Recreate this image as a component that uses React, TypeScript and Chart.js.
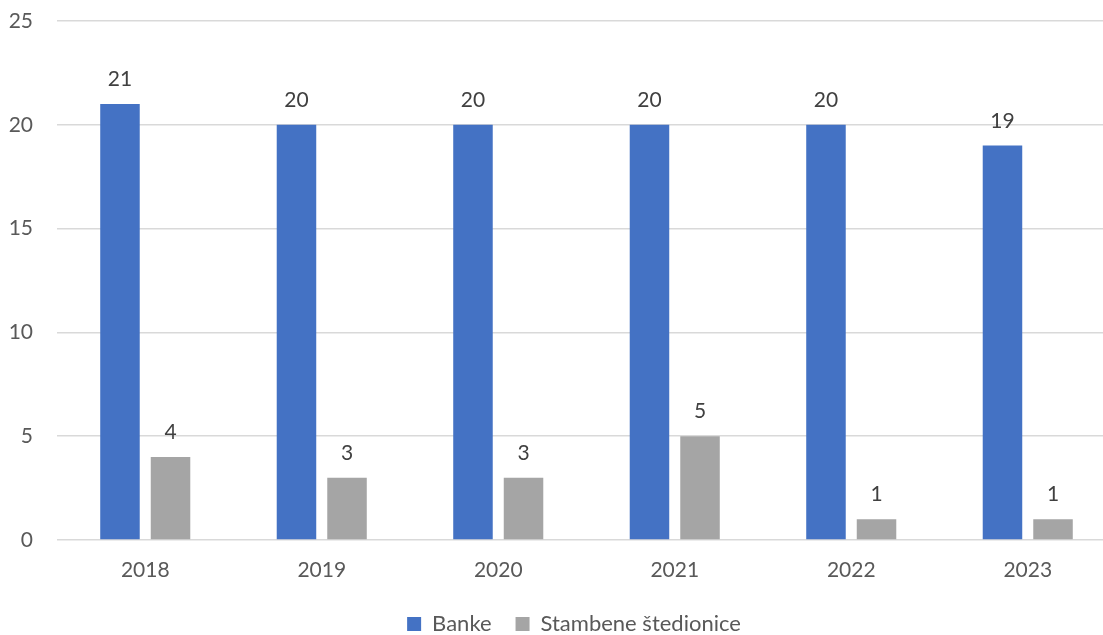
import React, { useEffect, useRef } from "react";
import { Chart, registerables } from "chart.js";

Chart.register(...registerables);

const categories = ["2018", "2019", "2020", "2021", "2022", "2023"];
const banke = [21, 20, 20, 20, 20, 19];
const stambene = [4, 3, 3, 5, 1, 1];
const seriesNames = ["Banke", "Stambene štedionice"];
const yTicks = [0, 5, 10, 15, 20, 25];

const FONT = "Lato, 'Open Sans', sans-serif";

const valueLabels = {
  id: "valueLabels",
  afterDatasetsDraw(chart: any) {
    const ctx = chart.ctx;
    ctx.save();
    ctx.font = `21px ${FONT}`;
    ctx.fillStyle = "#404040";
    ctx.textAlign = "center";
    ctx.textBaseline = "alphabetic";
    chart.data.datasets.forEach((ds: any, i: number) => {
      const meta = chart.getDatasetMeta(i);
      meta.data.forEach((bar: any, j: number) => {
        ctx.fillText(String(ds.data[j]), bar.x, bar.y - 18);
      });
    });
    ctx.restore();
  },
};

const legendShift = {
  id: "legendShift",
  afterLayout(chart: any) {
    const lg = chart.legend;
    if (lg) {
      lg.left += 16;
      lg.right += 16;
    }
  },
};

export default function App() {
  const ref = useRef<HTMLCanvasElement>(null);
  useEffect(() => {
    document.body.style.margin = "0";
    document.body.style.overflow = "hidden";
    const chart = new Chart(ref.current!, {
      type: "bar",
      data: {
        labels: categories,
        datasets: [
          { label: seriesNames[0], data: banke, backgroundColor: "#4472C4" },
          { label: seriesNames[1], data: stambene, backgroundColor: "#A5A5A5" },
        ],
      },
      options: {
        animation: false,
        responsive: false,
        maintainAspectRatio: false,
        layout: { padding: { top: 21, left: 0, right: 0, bottom: -10 } },
        datasets: { bar: { categoryPercentage: 0.5726, barPercentage: 0.782 } } as any,
        scales: {
          x: {
            grid: { display: false, drawTicks: false },
            border: { display: false },
            ticks: { color: "#595959", font: { family: FONT, size: 21 }, padding: 18 },
            afterFit: (s: any) => {
              s.height = 49;
              s.paddingLeft = 0;
              s.paddingRight = 0;
              s.paddingTop = 0;
              s.paddingBottom = 0;
            },
          },
          y: {
            min: 0,
            max: 25,
            afterBuildTicks: (s: any) => { s.ticks = yTicks.map((v) => ({ value: v })); },
            grid: { color: "#D9D9D9", lineWidth: 1.5, drawTicks: false },
            border: { display: false },
            ticks: { color: "#595959", font: { family: FONT, size: 21 }, padding: 24 },
            afterFit: (s: any) => {
              s.width = 57;
              s.paddingTop = 0;
              s.paddingBottom = 0;
              s.paddingLeft = 0;
              s.paddingRight = 0;
            },
          },
        },
        plugins: {
          legend: {
            position: "bottom",
            labels: {
              color: "#595959",
              font: { family: FONT, size: 22 },
              boxWidth: 14,
              boxHeight: 14,
              padding: 24,
            },
          },
          tooltip: { enabled: false },
        },
      },
      plugins: [valueLabels, legendShift],
    });
    return () => chart.destroy();
  }, []);
  return (
    <div style={{ position: "absolute", left: 0, top: 0, width: 1116, height: 635, overflow: "hidden" }}>
      <canvas ref={ref} width={1116} height={635} style={{ width: 1116, height: 635 }} />
    </div>
  );
}
